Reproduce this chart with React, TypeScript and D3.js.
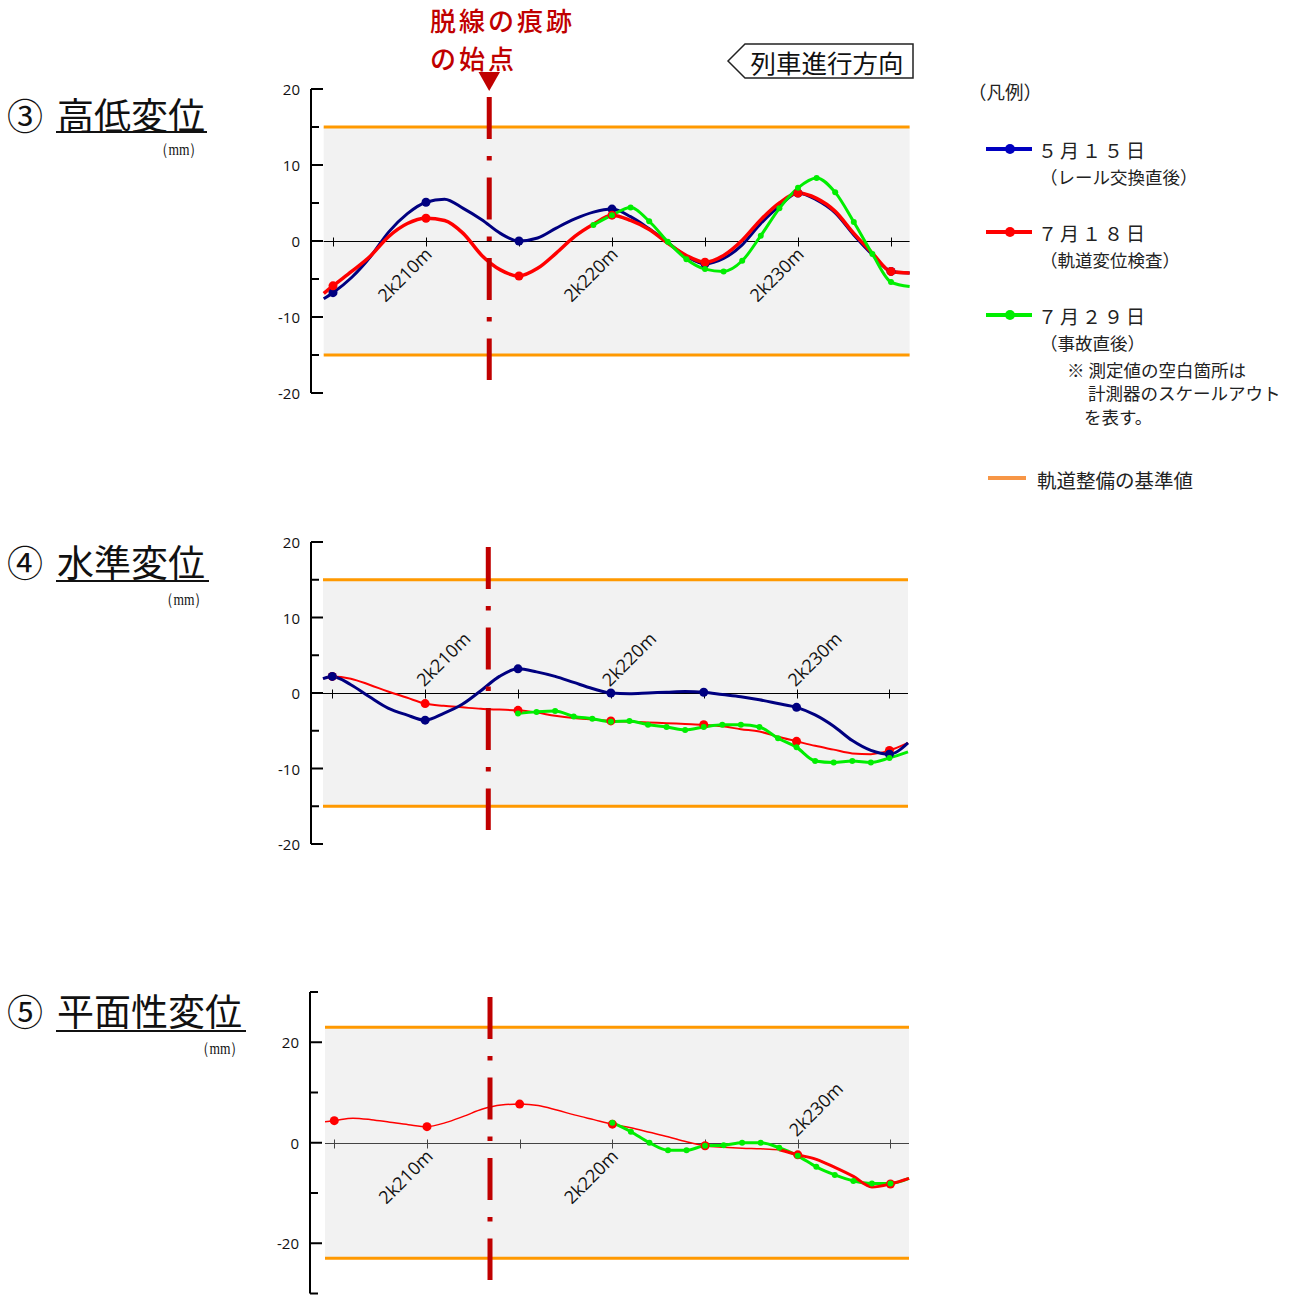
import React from "react";
import * as d3 from "d3";

// ---------- data (distance in m, values in mm) ----------
const distances = [2204.5, 2205, 2206, 2207, 2208, 2209, 2210, 2211, 2212, 2213, 2214, 2215, 2216, 2217, 2218, 2219, 2220, 2221, 2222, 2223, 2224, 2225, 2226, 2227, 2228, 2229, 2230, 2231, 2232, 2233, 2234, 2235, 2236];
const markerDistances = [2205, 2210, 2215, 2220, 2225, 2230, 2235];
const kmLabels = ["2k210m", "2k220m", "2k230m"];
const kmLabelDistances = [2210, 2220, 2230];
const xDomain = [2204.5, 2236];
const derailStart = 2213.4;

// ③ 高低変位
const heightMay15 = [-7.6, -6.8, -4.8, -2.1, 1.2, 3.6, 5.1, 5.5, 4.3, 2.8, 1.0, 0.0, 0.4, 1.7, 2.9, 3.8, 4.2, 3.2, 1.6, -0.2, -2.0, -3.0, -2.3, -0.5, 2.3, 4.6, 6.3, 5.4, 3.7, 0.8, -1.8, -4.0, -4.2];
const heightJul18 = [-6.9, -5.9, -4.0, -2.0, 0.6, 2.3, 3.0, 2.7, 1.0, -1.9, -3.8, -4.6, -3.6, -1.6, 0.6, 2.2, 3.4, 2.7, 1.5, -0.3, -1.9, -2.8, -1.9, 0.1, 2.8, 5.0, 6.3, 5.6, 3.9, 1.0, -1.6, -4.0, -4.2];
const heightJul29Dist = [2219, 2220, 2221, 2222, 2223, 2224, 2225, 2226, 2227, 2228, 2229, 2230, 2231, 2232, 2233, 2234, 2235, 2236];
const heightJul29 = [2.1, 3.4, 4.4, 2.6, -0.1, -2.4, -3.7, -4.0, -2.6, 0.7, 4.3, 7.0, 8.3, 6.4, 2.5, -1.7, -5.4, -6.0];

// ④ 水準変位
const levelMay15 = [1.9, 2.2, 1.1, -0.5, -2.0, -2.9, -3.6, -2.7, -1.5, 0.3, 2.2, 3.2, 2.8, 2.2, 1.4, 0.6, 0.0, -0.1, 0.0, 0.1, 0.2, 0.1, -0.2, -0.5, -0.9, -1.4, -1.9, -2.9, -4.4, -6.3, -7.6, -8.1, -6.6];
const levelJul18 = [1.9, 2.2, 1.9, 1.1, 0.2, -0.6, -1.4, -1.7, -1.9, -2.1, -2.2, -2.3, -2.6, -3.0, -3.3, -3.5, -3.7, -3.8, -3.9, -4.0, -4.1, -4.2, -4.4, -4.8, -5.1, -5.8, -6.4, -7.0, -7.5, -8.0, -8.1, -7.6, -6.6];
const levelJul29Dist = [2215, 2216, 2217, 2218, 2219, 2220, 2221, 2222, 2223, 2224, 2225, 2226, 2227, 2228, 2229, 2230, 2231, 2232, 2233, 2234, 2235, 2236];
const levelJul29 = [-2.7, -2.5, -2.4, -3.1, -3.4, -3.8, -3.7, -4.2, -4.5, -4.9, -4.5, -4.2, -4.2, -4.5, -6.0, -7.2, -9.0, -9.2, -9.0, -9.2, -8.6, -7.8];

// ⑤ 平面性変位
const twistJul18 = [4.2, 4.4, 4.9, 4.6, 4.1, 3.6, 3.2, 4.0, 5.3, 6.7, 7.5, 7.7, 7.4, 6.5, 5.5, 4.6, 3.7, 3.0, 2.1, 1.2, 0.2, -0.6, -0.9, -1.1, -1.2, -1.4, -2.4, -3.3, -4.9, -6.7, -8.8, -8.2, -7.1];
const twistJul29Dist = [2220, 2221, 2222, 2223, 2224, 2225, 2226, 2227, 2228, 2229, 2230, 2231, 2232, 2233, 2234, 2235, 2236];
const twistJul29 = [4.0, 2.2, 0.0, -1.5, -1.5, -0.6, -0.5, 0.0, 0.0, -1.0, -2.6, -4.8, -6.4, -7.6, -8.1, -8.1, -7.1];

const legendLabels = ["５月１５日", "７月１８日", "７月２９日"];
const legendNotes = ["（レール交換直後）", "（軌道変位検査）", "（事故直後）"];

// ---------- styles ----------
const BLUE = "#000080";
const RED = "#ff0000";
const GREEN = "#00ee00";
const ORANGE = "#ff9900";
const DERAIL = "#c00000";
const JP = "'Noto Sans CJK JP', sans-serif";
const NUM = "'Open Sans', sans-serif";

type Series = { xs: number[]; vs: number[]; color: string; width: number; r: number; markers: "five" | "all" };

type ChartCfg = {
  left: number; right: number;
  yDomain: [number, number]; yRange: [number, number];
  axisX: number;
  major: number[]; minor: number[];
  limit: number;
  labelPos: ("above" | "below")[];
  series: Series[];
  derailTop: number; derailBottom: number;
  axisColor: string;
  thickFrom?: { xs: number[]; vs: number[]; from: number; color: string; width: number };
};

function Chart({ cfg }: { cfg: ChartCfg }) {
  const x = d3.scaleLinear().domain(xDomain).range([cfg.left, cfg.right]);
  const y = d3.scaleLinear().domain(cfg.yDomain).range(cfg.yRange);
  const line = (xs: number[]) =>
    d3.line<number>().x((_, i) => x(xs[i])).y((v) => y(v)).curve(d3.curveMonotoneX);
  const y0 = Math.round(y(0)) + 0.5;
  const markerSet = new Set(markerDistances);
  return (
    <g>
      <rect x={cfg.left} y={y(cfg.limit)} width={cfg.right - cfg.left} height={y(-cfg.limit) - y(cfg.limit)} fill="#f2f2f2" />
      <line x1={cfg.left} x2={cfg.right} y1={y(cfg.limit)} y2={y(cfg.limit)} stroke={ORANGE} strokeWidth={3} />
      <line x1={cfg.left} x2={cfg.right} y1={y(-cfg.limit)} y2={y(-cfg.limit)} stroke={ORANGE} strokeWidth={3} />
      {/* y axis */}
      <line x1={cfg.axisX} x2={cfg.axisX} y1={y(cfg.yDomain[1])} y2={y(cfg.yDomain[0])} stroke="#000" strokeWidth={2} />
      {cfg.major.map((t) => (
        <g key={"M" + t}>
          <line x1={cfg.axisX} x2={cfg.axisX + 12} y1={y(t)} y2={y(t)} stroke="#000" strokeWidth={2} />
          <text x={cfg.axisX - 11} y={y(t)} textAnchor="end" dominantBaseline="central" fontFamily={NUM} fontSize={15} fill="#111">{t}</text>
        </g>
      ))}
      {cfg.minor.map((t) => (
        <line key={"m" + t} x1={cfg.axisX} x2={cfg.axisX + 8} y1={y(t)} y2={y(t)} stroke="#000" strokeWidth={2} />
      ))}
      {/* x axis */}
      <line x1={cfg.left} x2={cfg.right} y1={y0} y2={y0} stroke={cfg.axisColor} strokeWidth={1} />
      {markerDistances.map((d) => (
        <line key={"t" + d} x1={Math.round(x(d)) + 0.5} x2={Math.round(x(d)) + 0.5} y1={y0 - 4} y2={y0 + 5} stroke={cfg.axisColor} strokeWidth={1} />
      ))}
      {kmLabels.map((lab, i) => {
        const tx = x(kmLabelDistances[i]);
        const below = cfg.labelPos[i] === "below";
        const px = below ? tx + 7 : tx - 1;
        const py = below ? y0 + 14 : y0 - 6;
        return (
          <text key={lab} x={px} y={py} transform={`rotate(-45 ${px} ${py})`} textAnchor={below ? "end" : "start"} fontFamily={NUM} fontSize={18} fill="#111">{lab}</text>
        );
      })}
      {/* series */}
      {cfg.series.map((s, k) => (
        <g key={"s" + k}>
          <path d={line(s.xs)(s.vs) || ""} fill="none" stroke={s.color} strokeWidth={s.width} strokeLinejoin="round" />
        </g>
      ))}
      {cfg.thickFrom && (() => {
        const t = cfg.thickFrom!;
        const idx = t.xs.map((d, i) => (d >= t.from ? i : -1)).filter((i) => i >= 0);
        const xs = idx.map((i) => t.xs[i]);
        const vs = idx.map((i) => t.vs[i]);
        return <path d={line(xs)(vs) || ""} fill="none" stroke={t.color} strokeWidth={t.width} />;
      })()}
      {cfg.series.map((s, k) => (
        <g key={"p" + k}>
          {s.xs.map((d, i) =>
            (s.markers === "five" ? markerSet.has(d) : Number.isInteger(d) && d < xDomain[1]) ? (
              <circle key={i} cx={x(d)} cy={y(s.vs[i])} r={s.r} fill={s.color} />
            ) : null
          )}
        </g>
      ))}
      {/* derailment start */}
      <line x1={x(derailStart)} x2={x(derailStart)} y1={cfg.derailTop} y2={cfg.derailBottom} stroke={DERAIL} strokeWidth={5} strokeDasharray="42 17 4.5 17" />
    </g>
  );
}

const charts: ChartCfg[] = [
  {
    left: 323.7, right: 909.6, yDomain: [-20, 20], yRange: [393, 89], axisX: 311,
    major: [-20, -10, 0, 10, 20], minor: [-15, -5, 5, 15], limit: 15,
    labelPos: ["below", "below", "below"], axisColor: "#000",
    derailTop: 97, derailBottom: 380,
    series: [
      { xs: distances, vs: heightMay15, color: BLUE, width: 3, r: 4.5, markers: "five" },
      { xs: distances, vs: heightJul18, color: RED, width: 3.5, r: 4.5, markers: "five" },
      { xs: heightJul29Dist, vs: heightJul29, color: GREEN, width: 3, r: 3, markers: "all" },
    ],
  },
  {
    left: 323, right: 908, yDomain: [-20, 20], yRange: [844, 542], axisX: 311,
    major: [-20, -10, 0, 10, 20], minor: [-15, -5, 5, 15], limit: 15,
    labelPos: ["above", "above", "above"], axisColor: "#000",
    derailTop: 547, derailBottom: 830,
    series: [
      { xs: distances, vs: levelJul18, color: RED, width: 2, r: 4.5, markers: "five" },
      { xs: distances, vs: levelMay15, color: BLUE, width: 3, r: 4.5, markers: "five" },
      { xs: levelJul29Dist, vs: levelJul29, color: GREEN, width: 3, r: 3, markers: "all" },
    ],
  },
  {
    left: 325, right: 909, yDomain: [-30, 30], yRange: [1293.5, 992], axisX: 310,
    major: [-20, 0, 20], minor: [-30, -10, 10, 30], limit: 23,
    labelPos: ["below", "below", "above"], axisColor: "#444",
    derailTop: 997, derailBottom: 1280,
    series: [
      { xs: distances, vs: twistJul18, color: RED, width: 1.5, r: 4.5, markers: "five" },
      { xs: twistJul29Dist, vs: twistJul29, color: GREEN, width: 3, r: 3, markers: "all" },
    ],
    thickFrom: { xs: distances, vs: twistJul18, from: 2229, color: RED, width: 3 },
  },
];

const titles = [
  { num: "③", name: "高低変位", cy: 114, ux2: 207, uy: 132, mmX: 155, mmY: 149 },
  { num: "④", name: "水準変位", cy: 561, ux2: 209, uy: 581, mmX: 160, mmY: 599 },
  { num: "⑤", name: "平面性変位", cy: 1010, ux2: 246, uy: 1031, mmX: 196, mmY: 1048 },
];

export default function App() {
  const legendColors = ["#0000c0", RED, GREEN];
  const legendY = [149, 232, 315];
  return (
    <svg width={1301} height={1295} style={{ position: "absolute", left: 0, top: 0, background: "#fff" }}>
      {/* titles */}
      {titles.map((t) => (
        <g key={t.name}>
          <text x={7} y={t.cy} dominantBaseline="central" fontFamily={JP} fontSize={36} fill="#111">{t.num}</text>
          <text x={57} y={t.cy} dominantBaseline="central" fontFamily={JP} fontSize={37} fill="#111">{t.name}</text>
          <line x1={56} x2={t.ux2} y1={t.uy} y2={t.uy} stroke="#111" strokeWidth={2} />
          <text x={t.mmX} y={t.mmY} dominantBaseline="central" fontFamily="'Liberation Serif', serif" fontSize={17} fill="#111" textLength={48} lengthAdjust="spacingAndGlyphs">（mm）</text>
        </g>
      ))}

      {charts.map((c, i) => <Chart key={i} cfg={c} />)}

      {/* derailment label */}
      <text x={430} y={19.5} dominantBaseline="central" fontFamily={JP} fontSize={26} fontWeight={500} letterSpacing={3} fill={DERAIL}>脱線の痕跡</text>
      <text x={430} y={57.5} dominantBaseline="central" fontFamily={JP} fontSize={26} fontWeight={500} letterSpacing={3} fill={DERAIL}>の始点</text>
      <path d="M478.5,72 L500,72 L489.2,91 Z" fill={DERAIL} />

      {/* direction box */}
      <path d="M728,61 L745,44 L913,44 L913,78 L745,78 Z" fill="#fff" stroke="#222" strokeWidth={1.5} />
      <text x={827} y={61.5} textAnchor="middle" dominantBaseline="central" fontFamily={JP} fontSize={25.5} fill="#111">列車進行方向</text>

      {/* legend */}
      <text x={968} y={91} dominantBaseline="central" fontFamily={JP} fontSize={18.5} fill="#222">（凡例）</text>
      {legendLabels.map((lab, i) => (
        <g key={lab}>
          <line x1={986} x2={1032} y1={legendY[i]} y2={legendY[i]} stroke={legendColors[i]} strokeWidth={4} />
          <circle cx={1010} cy={legendY[i]} r={5} fill={legendColors[i]} />
          <text x={1038} y={legendY[i]} dominantBaseline="central" fontFamily={JP} fontSize={19} letterSpacing={3} fill="#222">{lab}</text>
          <text x={1040} y={legendY[i] + 27} dominantBaseline="central" fontFamily={JP} fontSize={17.5} fill="#222">{legendNotes[i]}</text>
        </g>
      ))}
      <text x={1067} y={369.5} dominantBaseline="central" fontFamily={JP} fontSize={17.5} fill="#222">※ 測定値の空白箇所は</text>
      <text x={1088} y={392.5} dominantBaseline="central" fontFamily={JP} fontSize={17.5} fill="#222">計測器のスケールアウト</text>
      <text x={1084} y={416.5} dominantBaseline="central" fontFamily={JP} fontSize={17.5} fill="#222">を表す。</text>
      <line x1={988} x2={1026} y1={478} y2={478} stroke="#f79646" strokeWidth={4} />
      <text x={1037} y={479} dominantBaseline="central" fontFamily={JP} fontSize={19.5} fill="#222">軌道整備の基準値</text>
    </svg>
  );
}
